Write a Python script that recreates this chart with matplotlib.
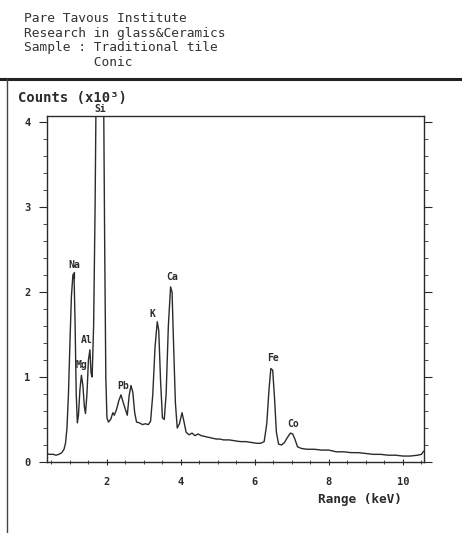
import matplotlib
matplotlib.use("Agg")
import matplotlib.pyplot as plt
from matplotlib.lines import Line2D
from matplotlib.ticker import MultipleLocator

# EDX spectrum: energy (keV) and counts (x10^3)
energy = [
    0.35, 0.45, 0.55, 0.62, 0.70, 0.78, 0.84, 0.88, 0.92, 0.96,
    1.00, 1.04, 1.08, 1.11, 1.14, 1.17, 1.20, 1.23, 1.27, 1.31,
    1.35, 1.39, 1.42, 1.46, 1.50, 1.54, 1.57, 1.60, 1.64, 1.68,
    1.72, 1.78, 1.85, 1.90, 1.94, 1.97, 2.00, 2.04, 2.10, 2.16,
    2.20, 2.26, 2.32, 2.38, 2.44, 2.50, 2.55, 2.60, 2.65, 2.70,
    2.75, 2.80, 2.88, 2.96, 3.04, 3.12, 3.18, 3.24, 3.30, 3.36,
    3.40, 3.45, 3.50, 3.55, 3.60, 3.66, 3.72, 3.76, 3.80, 3.85,
    3.90, 3.96, 4.03, 4.08, 4.14, 4.22, 4.30, 4.38, 4.46, 4.55,
    4.65, 4.75, 4.85, 4.95, 5.05, 5.15, 5.30, 5.45, 5.60, 5.75,
    5.90, 6.05, 6.15, 6.25, 6.32, 6.38, 6.43, 6.48, 6.53, 6.58,
    6.64, 6.72, 6.80, 6.88, 6.96, 7.02, 7.08, 7.15, 7.25, 7.40,
    7.60, 7.80, 8.00, 8.20, 8.40, 8.60, 8.80, 9.00, 9.20, 9.40,
    9.60, 9.80, 10.00, 10.20, 10.40, 10.50, 10.55, 10.60,
]
counts = [
    0.10, 0.09, 0.09, 0.08, 0.09, 0.11, 0.15, 0.22, 0.40, 0.80,
    1.40, 1.95, 2.20, 2.22, 1.60, 0.80, 0.46, 0.55, 0.85, 1.02,
    0.90, 0.65, 0.57, 0.80, 1.20, 1.32, 1.05, 1.00, 1.60, 3.00,
    5.00, 8.00, 8.00, 5.00, 2.50, 1.00, 0.52, 0.47, 0.50, 0.58,
    0.55, 0.62, 0.72, 0.79, 0.70, 0.62, 0.55, 0.78, 0.90, 0.82,
    0.58, 0.47, 0.46, 0.44, 0.45, 0.44, 0.48, 0.80, 1.35, 1.65,
    1.55, 0.95, 0.52, 0.50, 0.80, 1.60, 2.06, 2.00, 1.40, 0.70,
    0.40, 0.45, 0.58, 0.48, 0.35, 0.32, 0.34, 0.31, 0.33, 0.31,
    0.30, 0.29, 0.28, 0.27, 0.27, 0.26, 0.26, 0.25, 0.24, 0.24,
    0.23, 0.22, 0.22, 0.24, 0.45, 0.85, 1.10, 1.08, 0.75, 0.35,
    0.21, 0.20, 0.23, 0.29, 0.34, 0.33, 0.27, 0.18, 0.16, 0.15,
    0.15, 0.14, 0.14, 0.12, 0.12, 0.11, 0.11, 0.10, 0.09, 0.09,
    0.08, 0.08, 0.07, 0.07, 0.08, 0.09, 0.12, 0.14,
]

peak_names = ["Na", "Mg", "Al", "Si", "Pb", "K", "Ca", "Fe", "Co"]
peak_x = [1.11, 1.32, 1.46, 1.81, 2.43, 3.24, 3.76, 6.49, 7.03]
peak_y = [2.32, 1.14, 1.43, 4.15, 0.89, 1.74, 2.18, 1.22, 0.45]

header = [
    "Pare Tavous Institute",
    "Research in glass&Ceramics",
    "Sample : Traditional tile",
    "         Conic",
]
header_y = [19, 33, 48, 62]

MONO = "DejaVu Sans Mono"
INK = "#2b2b2b"

fig = plt.figure(figsize=(4.62, 5.33), dpi=100)
fig.patch.set_facecolor("white")

# header block
for line, y in zip(header, header_y):
    fig.text(24 / 462, 1 - y / 533, line, family=MONO,
             fontsize=9.3, color="#333333", va="center", ha="left")

# frame lines of the printout
fig.add_artist(Line2D([0, 1], [1 - 79 / 533, 1 - 79 / 533],
                      transform=fig.transFigure, color="#222222", lw=2.2))
fig.add_artist(Line2D([7 / 462, 7 / 462], [0, 1 - 79 / 533],
                      transform=fig.transFigure, color="#444444", lw=1.0))

ax = fig.add_axes([47 / 462, 1 - 462 / 533, (424 - 47) / 462, (462 - 116) / 533])
ax.plot(energy, counts, color=INK, lw=1.0, clip_on=True)
ax.set_xlim(0.38, 10.57)
ax.set_ylim(0, 4.07)

for name, x, y in zip(peak_names, peak_x, peak_y):
    ax.text(x, y, name, family=MONO, fontsize=7, fontweight="bold",
            color=INK, ha="center", va="center", clip_on=False)
# small marker under the Na label
ax.plot([1.11, 1.11], [2.17, 2.24], color=INK, lw=0.9)

for side in ["left", "bottom", "right", "top"]:
    ax.spines[side].set_color(INK)
    ax.spines[side].set_linewidth(1.0)

ax.xaxis.set_major_locator(MultipleLocator(2))
ax.xaxis.set_minor_locator(MultipleLocator(0.5))
ax.yaxis.set_major_locator(MultipleLocator(1))
ax.yaxis.set_minor_locator(MultipleLocator(0.2))
ax.set_xticks([2, 4, 6, 8, 10])
ax.set_yticks([0, 1, 2, 3, 4])
ax.tick_params(axis="x", which="both", direction="inout", top=False,
               labelsize=7.5, colors=INK, pad=8)
ax.tick_params(axis="x", which="major", length=5)
ax.tick_params(axis="x", which="minor", length=3)
ax.tick_params(axis="y", which="both", direction="out", right=True,
               labelsize=7.5, colors=INK, pad=6)
ax.tick_params(axis="y", which="major", length=6)
ax.tick_params(axis="y", which="minor", length=3)
for lab in ax.get_xticklabels() + ax.get_yticklabels():
    lab.set_family(MONO)
    lab.set_fontweight("bold")

fig.text(18 / 462, 1 - 98 / 533, "Counts (x10\u00b3)", family=MONO,
         fontsize=10, fontweight="bold", color=INK, va="center", ha="left")
fig.text(318 / 462, 1 - 499 / 533, "Range (keV)", family=MONO,
         fontsize=9.2, fontweight="bold", color=INK, va="center", ha="left")

fig.savefig("out.png", dpi=100, facecolor="white")
